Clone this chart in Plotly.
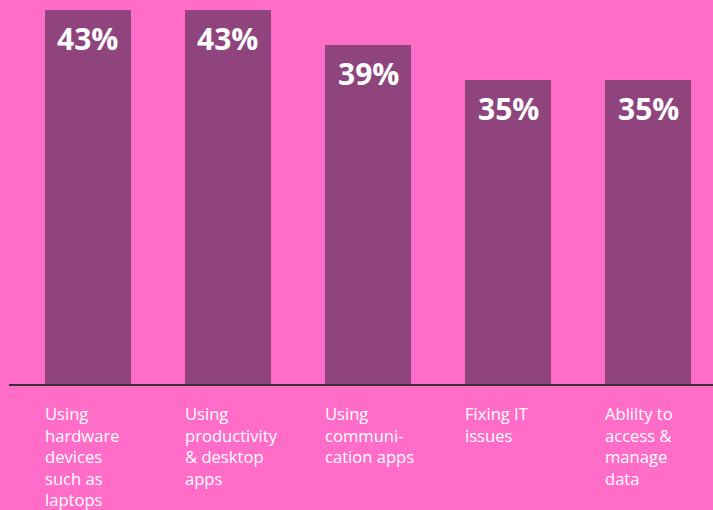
import plotly.graph_objects as go

categories = [
    "Using<br>hardware<br>devices<br>such as<br>laptops",
    "Using<br>productivity<br>& desktop<br>apps",
    "Using<br>communi-<br>cation apps",
    "Fixing IT<br>issues",
    "Ablilty to<br>access &<br>manage<br>data",
]
values = [43, 43, 39, 35, 35]
value_labels = ["43%", "43%", "39%", "35%", "35%"]

BG = "#FF6DC8"
BAR = "#8F447E"
FONT = "Open Sans"
bar_w = 0.614
xs = list(range(len(values)))

fig = go.Figure()
fig.add_trace(go.Bar(x=xs, y=values, width=bar_w, marker_color=BAR,
                     marker_line_width=0, hoverinfo="skip"))

annotations = []
for i, (v, t) in enumerate(zip(values, value_labels)):
    annotations.append(dict(x=i, y=v, xref="x", yref="y", text="<b>%s</b>" % t,
                            showarrow=False, yanchor="top", xanchor="center",
                            yshift=-6, font=dict(family=FONT, size=30, color="white")))
for i, c in enumerate(categories):
    annotations.append(dict(x=i - bar_w / 2, y=0, xref="x", yref="paper", text=c,
                            showarrow=False, yanchor="top", xanchor="left", align="left",
                            yshift=-16, xshift=-2,
                            font=dict(family=FONT, size=16.6, color="white")))

fig.update_layout(
    width=713, height=510,
    margin=dict(l=9, r=0, t=0, b=126),
    paper_bgcolor=BG, plot_bgcolor=BG,
    showlegend=False,
    xaxis=dict(range=[-0.564, 4.464], showticklabels=False, showgrid=False,
               zeroline=False, showline=True, linecolor="#333333", linewidth=2,
               fixedrange=True),
    yaxis=dict(range=[0, 384 / 8.7], visible=False, showgrid=False, zeroline=False,
               fixedrange=True),
    annotations=annotations,
    bargap=0,
)
fig.write_html("out.html", config={"displayModeBar": False})

with open("out.html", "r", encoding="utf-8") as f:
    html = f.read()
html = html.replace("<head>", "<head><style>html,body{margin:0;padding:0;overflow:hidden;background:%s;}</style>" % BG, 1)
with open("out.html", "w", encoding="utf-8") as f:
    f.write(html)
